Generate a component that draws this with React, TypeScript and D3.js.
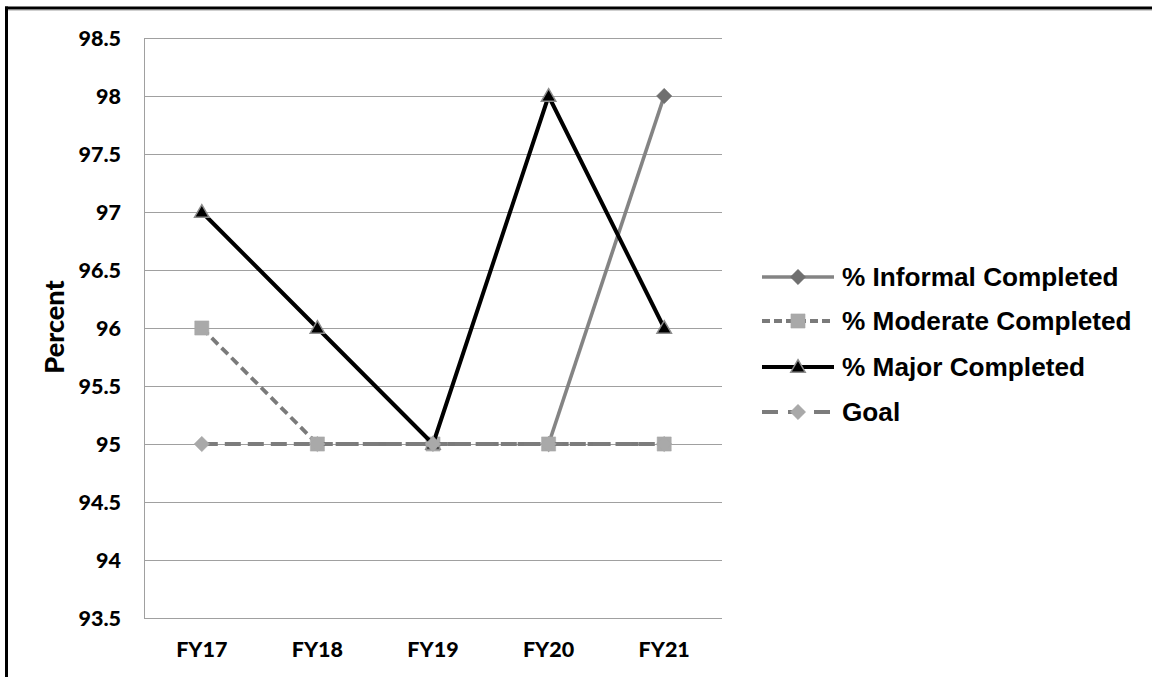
import React from "react";
import * as d3 from "d3";

// Fiscal years on the x axis
const categories = ["FY17", "FY18", "FY19", "FY20", "FY21"];

// Percent completed per fiscal year (null = no value reported)
const informalCompleted: (number | null)[] = [null, null, null, 95, 98];
const moderateCompleted: (number | null)[] = [96, 95, 95, 95, 95];
const majorCompleted: (number | null)[] = [97, 96, 95, 98, 96];
const goal: (number | null)[] = [95, 95, 95, 95, 95];

const yTicks = [93.5, 94, 94.5, 95, 95.5, 96, 96.5, 97, 97.5, 98, 98.5];

const seriesNames = [
  "% Informal Completed",
  "% Moderate Completed",
  "% Major Completed",
  "Goal",
];

type MarkerKind = "diamond" | "square" | "triangle";

interface SeriesStyle {
  name: string;
  values: (number | null)[];
  stroke: string;
  width: number;
  dash?: string;
  legendDash?: string;
  marker: MarkerKind;
  markerFill: string;
  markerStroke: string;
  markerSize: number;
}

const series: SeriesStyle[] = [
  {
    name: seriesNames[0],
    values: informalCompleted,
    stroke: "#848484",
    width: 3.6,
    marker: "diamond",
    markerFill: "#6f6f6f",
    markerStroke: "#6f6f6f",
    markerSize: 150,
  },
  {
    name: seriesNames[1],
    values: moderateCompleted,
    stroke: "#7a7a7a",
    width: 3.8,
    dash: "9,5",
    legendDash: "8,4",
    marker: "square",
    markerFill: "#a9a9a9",
    markerStroke: "#a9a9a9",
    markerSize: 200,
  },
  {
    name: seriesNames[2],
    values: majorCompleted,
    stroke: "#000000",
    width: 4,
    marker: "triangle",
    markerFill: "#000000",
    markerStroke: "#8c8c8c",
    markerSize: 150,
  },
  {
    name: seriesNames[3],
    values: goal,
    stroke: "#7c7c7c",
    width: 3.8,
    dash: "16,7",
    legendDash: "16,10",
    marker: "diamond",
    markerFill: "#a9a9a9",
    markerStroke: "#a9a9a9",
    markerSize: 150,
  },
];

const W = 1152;
const H = 677;
const plot = { left: 144, right: 722, top: 38, bottom: 618 };

const symbolType: Record<MarkerKind, d3.SymbolType> = {
  diamond: d3.symbolDiamond2,
  square: d3.symbolSquare,
  triangle: d3.symbolTriangle2,
};

function Marker({ s, x, y }: { s: SeriesStyle; x: number; y: number }) {
  const path = d3.symbol(symbolType[s.marker], s.markerSize)() || "";
  const dy = s.marker === "triangle" ? 1 : 0;
  return (
    <path
      d={path}
      transform={`translate(${x},${y + dy})`}
      fill={s.markerFill}
      stroke={s.markerStroke}
      strokeWidth={s.marker === "triangle" ? 1.5 : 0.5}
    />
  );
}

export default function App() {
  const x = d3
    .scalePoint<string>()
    .domain(categories)
    .range([plot.left, plot.right])
    .padding(0.5);
  const y = d3
    .scaleLinear()
    .domain([93.5, 98.5])
    .range([plot.bottom, plot.top]);

  const line = d3
    .line<{ c: string; v: number | null }>()
    .defined((d) => d.v !== null)
    .x((d) => x(d.c) as number)
    .y((d) => y(d.v as number));

  const legendX0 = 762;
  const legendX1 = 834;
  const legendRows = [277, 321, 367, 412];

  const tickFont = "Lato, 'DejaVu Sans', sans-serif";
  const legendFont = "'Liberation Sans', Arial, sans-serif";

  return (
    <svg
      width={W}
      height={H}
      style={{ position: "absolute", left: 0, top: 0, background: "#fff" }}
    >
      <rect x={0} y={0} width={W} height={H} fill="#ffffff" />

      {/* outer frame */}
      <line x1={5} x2={W} y1={10.5} y2={10.5} stroke="#cfcfcf" strokeWidth={1} />
      <line x1={5} x2={W} y1={8} y2={8} stroke="#000" strokeWidth={3} />
      <line x1={6.5} x2={6.5} y1={6.5} y2={H} stroke="#000" strokeWidth={3} />

      {/* horizontal gridlines */}
      {yTicks.map((t) => (
        <line
          key={`g${t}`}
          x1={plot.left}
          x2={plot.right}
          y1={Math.round(y(t)) + 0.5}
          y2={Math.round(y(t)) + 0.5}
          stroke="#a0a0a0"
          strokeWidth={1}
        />
      ))}
      {/* value axis line */}
      <line
        x1={plot.left + 0.5}
        x2={plot.left + 0.5}
        y1={plot.top}
        y2={plot.bottom + 1}
        stroke="#a0a0a0"
        strokeWidth={1}
      />

      {/* y tick labels */}
      {yTicks.map((t) => (
        <text
          key={`t${t}`}
          x={121}
          y={y(t)}
          dy="0.37em"
          textAnchor="end"
          fontFamily={tickFont}
          fontWeight={900}
          fontSize={21.5}
          fill="#000"
        >
          {d3.format("")(t)}
        </text>
      ))}

      {/* category labels */}
      {categories.map((c) => (
        <text
          key={c}
          x={x(c) as number}
          y={657}
          textAnchor="middle"
          fontFamily={tickFont}
          fontWeight={900}
          fontSize={21.5}
          fill="#000"
        >
          {c}
        </text>
      ))}

      {/* y axis title */}
      <text
        transform={`translate(64,327) rotate(-90)`}
        textAnchor="middle"
        fontFamily={tickFont}
        fontWeight={900}
        fontSize={27}
        fill="#000"
      >
        Percent
      </text>

      {/* series lines and markers */}
      {series.map((s) => {
        const pts = categories.map((c, i) => ({ c, v: s.values[i] }));
        return (
          <g key={s.name}>
            <path
              d={line(pts) || ""}
              fill="none"
              stroke={s.stroke}
              strokeWidth={s.width}
              strokeDasharray={s.dash}
              strokeLinejoin="round"
            />
            {pts
              .filter((p) => p.v !== null)
              .map((p) => (
                <Marker
                  key={p.c}
                  s={s}
                  x={x(p.c) as number}
                  y={y(p.v as number)}
                />
              ))}
          </g>
        );
      })}

      {/* legend */}
      {series.map((s, i) => {
        const ly = legendRows[i];
        return (
          <g key={`l${s.name}`}>
            <line
              x1={legendX0}
              x2={legendX1}
              y1={ly}
              y2={ly}
              stroke={s.stroke}
              strokeWidth={s.width}
              strokeDasharray={s.legendDash}
            />
            <Marker s={s} x={(legendX0 + legendX1) / 2} y={ly} />
            <text
              x={842}
              y={ly + 9}
              fontFamily={legendFont}
              fontWeight={700}
              fontSize={26.2}
              fill="#000"
            >
              {s.name}
            </text>
          </g>
        );
      })}
    </svg>
  );
}
